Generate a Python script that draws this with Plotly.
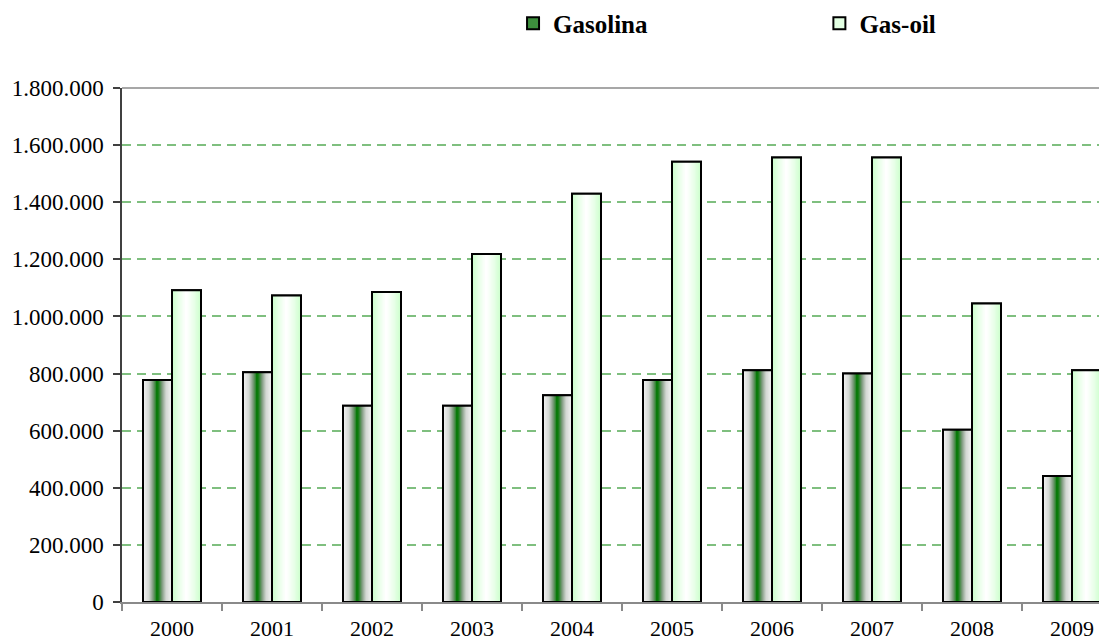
import plotly.graph_objects as go

years = ["2000", "2001", "2002", "2003", "2004", "2005", "2006", "2007", "2008", "2009"]
gasolina = [777000, 805000, 687000, 687000, 724000, 777000, 812000, 800000, 603000, 441000]
gasoil = [1092000, 1073000, 1086000, 1219000, 1430000, 1542000, 1557000, 1557000, 1045000, 812000]
y_ticks = [0, 200000, 400000, 600000, 800000, 1000000, 1200000, 1400000, 1600000, 1800000]

BAR_W = 0.29
N_LEVELS = 16


def lerp_color(stops, t):
    for (t0, c0), (t1, c1) in zip(stops[:-1], stops[1:]):
        if t0 <= t <= t1:
            f = 0 if t1 == t0 else (t - t0) / (t1 - t0)
            c = [round(a + (b - a) * f) for a, b in zip(c0, c1)]
            return "rgb(%d,%d,%d)" % tuple(c)
    c = stops[-1][1]
    return "rgb(%d,%d,%d)" % tuple(c)


# edge (t=0) -> centre (t=1)
gas_stops = [(0.0, (242, 242, 242)), (0.4, (212, 216, 212)), (0.7, (128, 156, 128)), (1.0, (10, 122, 10))]
oil_stops = [(0.0, (204, 255, 204)), (0.5, (234, 255, 234)), (1.0, (255, 255, 255))]

fig = go.Figure()

series = [
    ("Gasolina", gasolina, -BAR_W, gas_stops, "#3d8f3d", "legend"),
    ("Gas-oil", gasoil, 0.0, oil_stops, "#e2ffe2", "legend2"),
]

# base bars (legend entries)
for name, vals, off, stops, legcol, leg in series:
    fig.add_trace(go.Bar(
        x=years, y=vals, name=name, offset=off, width=BAR_W,
        marker=dict(color=legcol, line=dict(color="black", width=2)),
        showlegend=True, legend=leg, hoverinfo="skip"))

# nested gradient bars
for name, vals, off, stops, legcol, leg in series:
    centre = off + BAR_W / 2
    for k in range(N_LEVELS):
        w = BAR_W * (1 - k / N_LEVELS)
        fig.add_trace(go.Bar(
            x=years, y=vals, offset=centre - w / 2, width=w,
            marker=dict(color=lerp_color(stops, k / (N_LEVELS - 1)), line=dict(width=0)),
            showlegend=False, hoverinfo="skip"))

# outlines on top
for name, vals, off, stops, legcol, leg in series:
    fig.add_trace(go.Bar(
        x=years, y=vals, name=name, offset=off, width=BAR_W,
        marker=dict(color="rgba(0,0,0,0)", line=dict(color="black", width=2)),
        showlegend=False, hovertemplate=name + ": %{y:,}<extra></extra>"))

fig.add_shape(type="line", xref="x domain", yref="y domain", x0=0, x1=1, y0=1, y1=1,
              line=dict(color="#8a8a8a", width=1.5))

legend_font = dict(family="Liberation Serif", size=25, color="black", weight="bold")

# page body has an 8px default margin, so the figure is sized/offset to compensate
fig.update_layout(
    width=1099, height=634,
    margin=dict(l=114, r=0, t=80, b=40, autoexpand=False),
    paper_bgcolor="white", plot_bgcolor="white",
    barmode="overlay",
    separators=",.",
    font=dict(family="Liberation Serif", size=22, color="black"),
    legend=dict(orientation="h", x=0.397, y=1.17, xanchor="left", yanchor="top",
                font=legend_font, bgcolor="rgba(0,0,0,0)"),
    legend2=dict(orientation="h", x=0.708, y=1.17, xanchor="left", yanchor="top",
                 font=legend_font, bgcolor="rgba(0,0,0,0)"),
    xaxis=dict(type="category", range=[-0.5, 9.35], showline=True, linecolor="#8a8a8a", linewidth=1.5,
               ticks="outside", tickson="boundaries", ticklen=7, tickcolor="#8a8a8a", tickwidth=1.5,
               showgrid=False, ticklabelstandoff=6, fixedrange=True, automargin=False),
    yaxis=dict(range=[0, 1800000], tickvals=y_ticks, tickformat=",d", showline=True,
               linecolor="#404040", linewidth=1.5, ticks="outside", ticklen=7, tickcolor="#404040",
               tickwidth=1.5, showgrid=True, gridcolor="#7fbf7f", gridwidth=1.5, griddash="9px,6px",
               zeroline=False, ticklabelstandoff=5, fixedrange=True, automargin=False,
               tickfont=dict(size=23)),
)

fig.write_html("out.html")
